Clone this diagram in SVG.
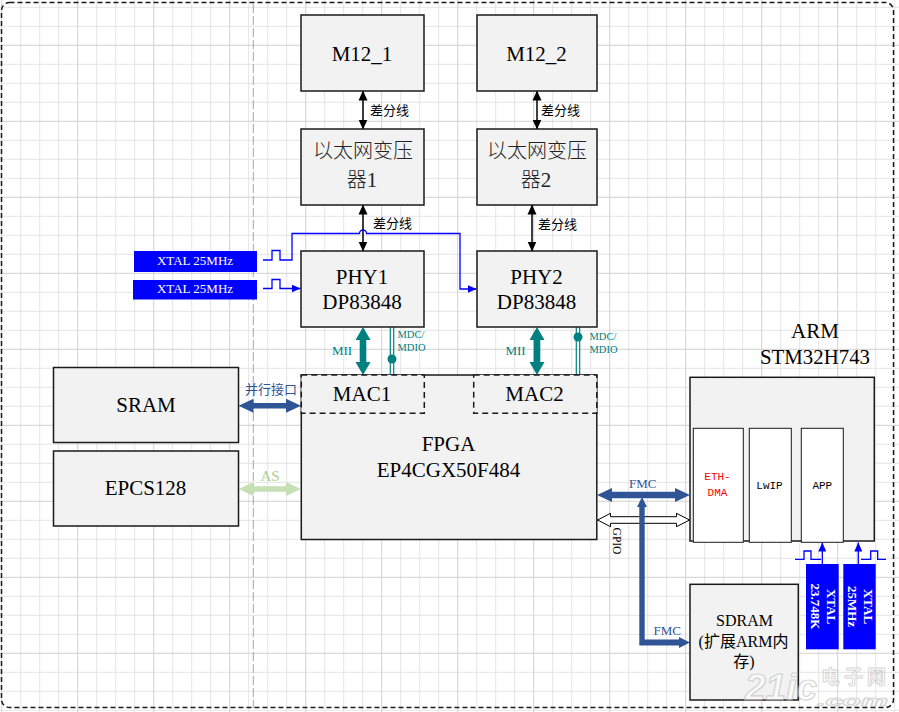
<svg xmlns="http://www.w3.org/2000/svg" width="899" height="712" viewBox="0 0 899 712">
<style>
.box{fill:#F2F2F2;stroke:#1a1a1a;stroke-width:1.5}
.inner{fill:#FFFFFF;stroke:#1a1a1a;stroke-width:1}
.dash{fill:#F2F2F2;stroke:#1a1a1a;stroke-width:1.5;stroke-dasharray:6,4}
.xtal{fill:#0000FF}
.t{font-family:"Liberation Serif","Noto Sans CJK SC",serif;fill:#000;text-anchor:middle}
.big{font-size:21px}
.mid{font-size:16px}
.lbl{font-size:13px}
.cjk{font-family:"Liberation Serif","Noto Sans CJK SC",sans-serif;font-size:13px;fill:#000}
.cjkbig{font-family:"Noto Sans CJK SC","Liberation Serif",sans-serif;font-size:20px;font-weight:300;fill:#222;text-anchor:middle}
.mono{font-family:"Liberation Mono",monospace;font-size:11px;text-anchor:middle;fill:#000}
.teal{fill:#008080}
.navy{fill:#2F5597}
.wt{fill:#FFFFFF}
.thin{fill:none;stroke:#000;stroke-width:1.5;marker-start:url(#ah);marker-end:url(#ah)}
.blue{fill:none;stroke:#0000FF;stroke-width:1.3}
.mdc{stroke:#008080;stroke-width:1.2}
</style>
<defs>
<pattern id="grid" patternUnits="userSpaceOnUse" x="1.2" y="-31.2" width="76" height="76">
<rect x="0" y="0" width="76" height="76" fill="#FFFFFF"/>
<rect x="19" y="0" width="1" height="76" fill="#E4E4E4"/>
<rect x="38" y="0" width="1" height="76" fill="#E4E4E4"/>
<rect x="57" y="0" width="1" height="76" fill="#E4E4E4"/>
<rect x="0" y="19" width="76" height="1" fill="#E4E4E4"/>
<rect x="0" y="38" width="76" height="1" fill="#E4E4E4"/>
<rect x="0" y="57" width="76" height="1" fill="#E4E4E4"/>
<rect x="0" y="0" width="1" height="76" fill="#D0D0D0"/>
<rect x="0" y="0" width="76" height="1" fill="#D0D0D0"/>
</pattern>
<marker id="ah" markerUnits="userSpaceOnUse" markerWidth="10" markerHeight="10" viewBox="0 0 10 10" refX="9.5" refY="5" orient="auto-start-reverse">
<path d="M0,0.5 L10,5 L0,9.5 Z" fill="#000"/>
</marker>
<marker id="bh" markerUnits="userSpaceOnUse" markerWidth="9" markerHeight="8" viewBox="0 0 9 8" refX="9" refY="4" orient="auto">
<path d="M0,0 L9,4 L0,8 Z" fill="#0000FF"/>
</marker>
</defs>

<rect width="899" height="712" fill="url(#grid)"/>
<rect x="1.5" y="2.5" width="892" height="705" rx="8" fill="none" stroke="#1a1a1a" stroke-width="1.5" stroke-dasharray="5,3"/>
<line x1="253.3" y1="4" x2="253.3" y2="708" stroke="#A6A6A6" stroke-width="1" stroke-dasharray="9,3"/>

<g id="connectors">
<path class="thin" d="M363,91 V129"/>
<path class="thin" d="M537,91 V129"/>
<path class="thin" d="M363,205 V251"/>
<path class="thin" d="M532,205 V251"/>
<text class="cjk" x="370" y="115">差分线</text>
<text class="cjk" x="541" y="115">差分线</text>
<text class="cjk" x="373" y="228">差分线</text>
<text class="cjk" x="538" y="229">差分线</text>

<path class="blue" d="M263,260 H272 V250.5 H280 V260 H292 V233.5 H359.5 A3.5,3.5 0 0 1 366.5,233.5 H460 V289 H476.5" marker-end="url(#bh)"/>
<path class="blue" d="M263,288.5 H272 V279.5 H280 V288.5 H300.5" marker-end="url(#bh)"/>

<polygon class="teal" points="363,327 370.5,340 366.3,340 366.3,362 370.5,362 363,375 355.5,362 359.7,362 359.7,340 355.5,340"/>
<polygon class="teal" points="537,327 544.5,340 540.3,340 540.3,362 544.5,362 537,375 529.5,362 533.7,362 533.7,340 529.5,340"/>
<text class="t lbl teal" x="342" y="354.5">MII</text>
<text class="t lbl teal" x="515.5" y="354.5">MII</text>

<line class="mdc" x1="390.3" y1="327" x2="390.3" y2="375"/>
<line class="mdc" x1="393.7" y1="327" x2="393.7" y2="375"/>
<circle cx="392" cy="359" r="4.5" fill="#008080"/>
<line class="mdc" x1="576.3" y1="327" x2="576.3" y2="375"/>
<line class="mdc" x1="579.7" y1="327" x2="579.7" y2="375"/>
<circle cx="578" cy="337" r="4.5" fill="#008080"/>
<text class="teal" font-family="Liberation Serif,serif" font-size="10.5" x="397.5" y="338">MDC/</text>
<text class="teal" font-family="Liberation Serif,serif" font-size="10.5" x="397.5" y="350.5">MDIO</text>
<text class="teal" font-family="Liberation Serif,serif" font-size="10.5" x="589.5" y="340">MDC/</text>
<text class="teal" font-family="Liberation Serif,serif" font-size="10.5" x="589.5" y="352.5">MDIO</text>

<polygon class="navy" points="238.5,405.7 253.5,398.7 253.5,403 286,403 286,398.7 301,405.7 286,412.7 286,408.4 253.5,408.4 253.5,412.7"/>
<text class="cjk" x="245" y="393.5" style="fill:#2F5597">并行接口</text>
<polygon fill="#C5E0B4" points="238.5,489 253.5,482 253.5,486.3 286,486.3 286,482 301,489 286,496 286,491.7 253.5,491.7 253.5,496"/>
<text class="t" x="270" y="480.5" font-size="15" style="fill:#A9D18E">AS</text>

<polygon class="navy" points="597,495 612,488 612,491.7 675,491.7 675,488 690,495 675,502 675,498.3 612,498.3 612,502"/>
<text class="t lbl navy" x="642.7" y="487.7">FMC</text>
<polygon fill="#FFFFFF" stroke="#000" stroke-width="1" points="597.5,520 610.5,513.3 610.5,516.7 676.5,516.7 676.5,513.3 689.5,520 676.5,526.7 676.5,523.3 610.5,523.3 610.5,526.7"/>
<text class="t" font-size="11.5" transform="translate(612.5,541) rotate(90)">GPIO</text>
<polygon class="navy" points="642,497 647,507 644.7,507 644.7,639.5 679,639.5 679,637 690,642.5 679,648 679,645.5 639.3,645.5 639.3,507 637,507"/>
<text class="t lbl navy" x="667.3" y="634.5">FMC</text>

<path class="blue" d="M795,559.3 H804 V551 H811 V559.3 H821"/>
<path class="blue" d="M822.3,564 V542.5" marker-end="url(#bh)"/>
<path class="blue" d="M861,559.3 H870.7 V551 H877.7 V559.3 H886"/>
<path class="blue" d="M858.3,564 V542.5" marker-end="url(#bh)"/>
</g>

<g id="m12_1"><rect class="box" x="301" y="15" width="123" height="76"/><text class="t big" x="362" y="61">M12_1</text></g>
<g id="m12_2"><rect class="box" x="477" y="15" width="120" height="76"/><text class="t big" x="536.5" y="61">M12_2</text></g>
<g id="trans1"><rect class="box" x="301" y="129" width="123" height="76"/><text class="cjkbig" x="363" y="157.5">以太网变压</text><text class="cjkbig" x="362" y="187">器<tspan font-family="Liberation Serif,serif" font-size="21">1</tspan></text></g>
<g id="trans2"><rect class="box" x="477" y="129" width="120" height="76"/><text class="cjkbig" x="537" y="157.5">以太网变压</text><text class="cjkbig" x="536" y="187">器<tspan font-family="Liberation Serif,serif" font-size="21">2</tspan></text></g>

<g id="xtal1"><rect class="xtal" x="134" y="251" width="123" height="21"/><text class="t lbl wt" x="195" y="264.5">XTAL 25MHz</text></g>
<g id="xtal2"><rect class="xtal" x="133" y="280" width="124" height="19.5"/><text class="t lbl wt" x="195" y="292.5">XTAL 25MHz</text></g>

<g id="phy1"><rect class="box" x="301" y="251" width="123" height="76"/><text class="t big" x="362" y="283.5">PHY1</text><text class="t big" x="362" y="309">DP83848</text></g>
<g id="phy2"><rect class="box" x="477" y="251" width="120" height="76"/><text class="t big" x="536.5" y="283.5">PHY2</text><text class="t big" x="536.5" y="309">DP83848</text></g>

<g id="sram"><rect class="box" x="53.5" y="367.5" width="185" height="75"/><text class="t big" x="146" y="412">SRAM</text></g>
<g id="epcs"><rect class="box" x="53.5" y="451" width="185" height="75"/><text class="t big" x="145.5" y="495">EPCS128</text></g>

<g id="fpga"><rect class="box" x="301.3" y="375" width="295.5" height="164.5"/>
<text class="t big" x="448.5" y="451">FPGA</text><text class="t big" x="448.5" y="477">EP4CGX50F484</text></g>
<g id="mac1"><rect class="dash" x="301.3" y="375" width="123" height="38.3"/><text class="t big" x="362" y="401">MAC1</text></g>
<g id="mac2"><rect class="dash" x="473.7" y="375" width="123.1" height="38.3"/><text class="t big" x="534.5" y="401">MAC2</text></g>

<g id="arm"><rect class="box" x="690" y="377.3" width="184.3" height="163.7"/>
<text class="t big" x="815" y="337.5">ARM</text><text class="t big" x="815" y="363.5" textLength="110" lengthAdjust="spacingAndGlyphs">STM32H743</text></g>
<g id="ethdma"><rect class="inner" x="693.3" y="428.3" width="50" height="114"/><text class="mono" x="717.5" y="480" style="fill:#FF0000">ETH-</text><text class="mono" x="717.5" y="496" style="fill:#FF0000">DMA</text></g>
<g id="lwip"><rect class="inner" x="749.3" y="428.3" width="42" height="114"/><text class="mono" x="769.5" y="488.5">LwIP</text></g>
<g id="app"><rect class="inner" x="801.3" y="428.3" width="42" height="114"/><text class="mono" x="822.3" y="488.5">APP</text></g>

<g id="sdram"><rect class="box" x="690" y="584.3" width="108.3" height="115.7"/>
<text class="t mid" x="744.5" y="626">SDRAM</text><text class="t mid" x="743.5" y="647">(扩展ARM内</text><text class="t mid" x="744" y="667">存)</text></g>

<g id="xtal3"><rect class="xtal" x="806" y="564" width="32.7" height="85.3"/>
<text class="t lbl wt" font-weight="bold" transform="translate(827,606.5) rotate(90)">XTAL</text>
<text class="t lbl wt" font-weight="bold" transform="translate(811,606.5) rotate(90)">23.748K</text></g>
<g id="xtal4"><rect class="xtal" x="843.3" y="564" width="32.4" height="85.3"/>
<text class="t lbl wt" font-weight="bold" transform="translate(864,606.5) rotate(90)">XTAL</text>
<text class="t lbl wt" font-weight="bold" transform="translate(848,606.5) rotate(90)">25MHz</text></g>

<g id="watermark" opacity="0.6">
<text x="745" y="700" font-family="Liberation Sans,sans-serif" font-size="37" font-weight="bold" font-style="italic" fill="#FFFFFF" stroke="#BDBDBD" stroke-width="1.2">21ic</text>
<text x="821" y="683.5" font-family="Noto Sans CJK SC,sans-serif" font-size="19" font-weight="bold" fill="#FFFFFF" stroke="#BDBDBD" stroke-width="1" textLength="65">电子网</text>
<text x="817" y="706" font-family="Liberation Sans,sans-serif" font-size="15" font-weight="bold" font-style="italic" fill="#FFFFFF" stroke="#BDBDBD" stroke-width="1" textLength="71" lengthAdjust="spacingAndGlyphs">.com</text>
</g>
</svg>
